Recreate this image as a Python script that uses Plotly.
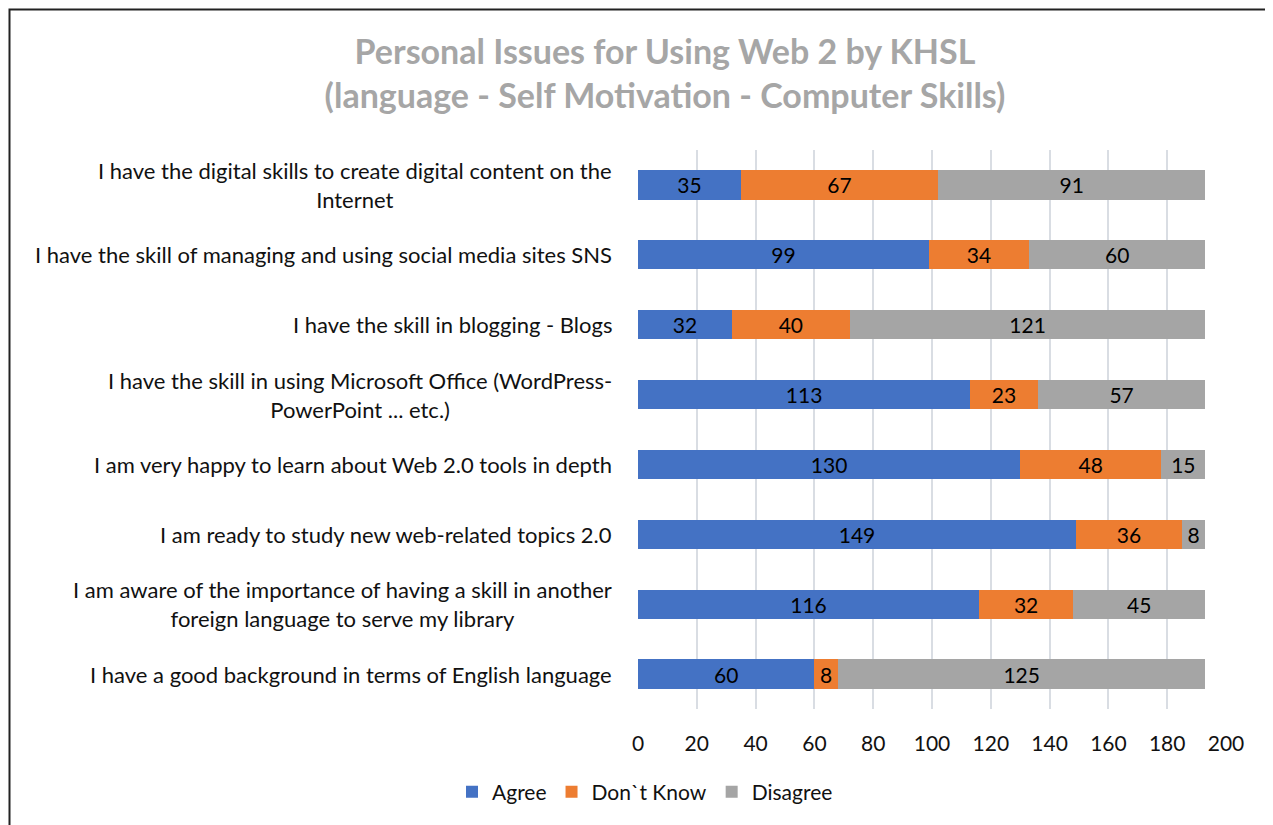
import plotly.graph_objects as go

categories = [
    "I have the digital skills to create digital content on the<br>Internet",
    "I have the skill of managing and using social media sites SNS",
    "I have the skill in blogging - Blogs",
    "I have the skill in using Microsoft Office (WordPress-<br>PowerPoint ... etc.)",
    "I am very happy to learn about Web 2.0 tools in depth",
    "I am ready to study new web-related topics 2.0",
    "I am aware of the importance of having a skill in another<br>foreign language to serve my library",
    "I have a good background in terms of English language",
]
agree = [35, 99, 32, 113, 130, 149, 116, 60]
dont_know = [67, 34, 40, 23, 48, 36, 32, 8]
disagree = [91, 60, 121, 57, 15, 8, 45, 125]
x_ticks = [0, 20, 40, 60, 80, 100, 120, 140, 160, 180, 200]

FONT = "Lato"
series = [
    ("Agree", agree, "#4472C4"),
    ("Don`t Know", dont_know, "#ED7D31"),
    ("Disagree", disagree, "#A5A5A5"),
]

fig = go.Figure()
for name, vals, color in series:
    fig.add_trace(go.Bar(
        name=name, y=categories, x=vals, orientation="h",
        marker=dict(color=color, line=dict(width=0)),
        text=[str(v) for v in vals], textposition="inside",
        insidetextanchor="middle", constraintext="none", textangle=0,
        textfont=dict(family=FONT, size=21, color="#000000"),
        hoverinfo="skip",
    ))

OFF = 8  # page body margin
W, H = 1273 - OFF, 825 - OFF
L, R, T, B = 630, 47, 142, 116
pw, ph = W - L - R, H - T - B

annotations = []
for c in categories:
    annotations.append(dict(
        text=c, xref="paper", yref="y", x=0, y=c, xanchor="right",
        xshift=-24, align="center", showarrow=False,
        font=dict(family=FONT, size=22, color="#111111"),
    ))

def px_x(p):
    return (p - OFF - L) / pw

def px_y(p):
    return (H - B - (p - OFF)) / ph

fig.update_layout(
    width=W, height=H,
    margin=dict(l=L, r=R, t=T, b=B, autoexpand=False),
    paper_bgcolor="white", plot_bgcolor="white",
    barmode="stack", bargap=0.58,
    title=dict(
        text="Personal Issues for Using Web 2 by KHSL<br>(language - Self Motivation - Computer Skills)",
        x=(665 - OFF) / W, xanchor="center", y=1 - (64 - OFF) / H, yanchor="middle",
        font=dict(family=FONT, size=34, color="#A6A6A6", weight="bold"),
    ),
    xaxis=dict(
        range=[0, 200], tickvals=x_ticks, showgrid=True, gridcolor="#D9DDE3",
        gridwidth=1.5, zeroline=False, showline=False, ticks="",
        tickfont=dict(family=FONT, size=21, color="#111111"),
        ticklabelstandoff=20, fixedrange=True,
    ),
    yaxis=dict(
        autorange="reversed", showticklabels=False, showgrid=False,
        zeroline=False, showline=False, ticks="", fixedrange=True,
    ),
    legend=dict(
        orientation="h", x=px_x(645), xanchor="center", y=px_y(792),
        yanchor="middle", font=dict(family=FONT, size=21, color="#111111"),
        traceorder="normal", itemwidth=30,
    ),
    annotations=annotations,
    shapes=[dict(
        type="rect", xref="paper", yref="paper",
        x0=px_x(9.5), x1=px_x(1268), y0=px_y(9.5), y1=px_y(840),
        line=dict(color="#222222", width=2), layer="above",
    )],
)

fig.write_html("out.html")
